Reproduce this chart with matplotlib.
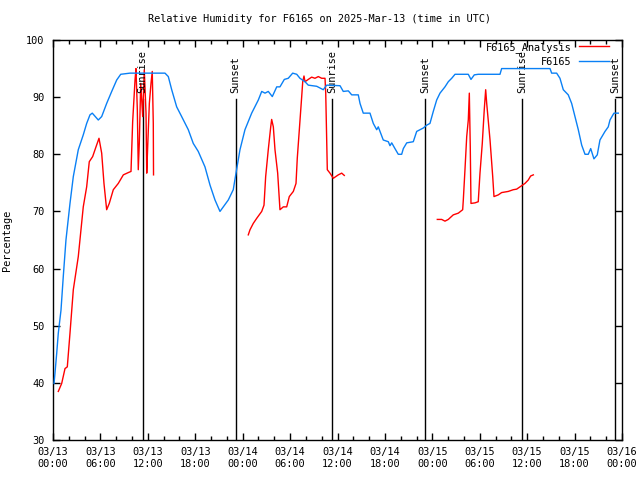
import matplotlib
matplotlib.use("Agg")
import matplotlib.pyplot as plt
import numpy as np

# hours since 2025-03-13 00:00 UTC
station_t = [0.13, 0.25, 0.47, 0.67, 1.01, 1.30, 1.64, 2.15, 2.57, 3.20, 3.83, 4.26,
             4.68, 4.97, 5.73, 6.16, 6.79, 7.43, 8.06, 8.57, 9.74, 14.17, 14.59, 15.02,
             15.65, 16.28, 17.12, 17.75, 18.38, 19.23, 19.87, 20.50, 21.13, 21.55, 22.18,
             22.81, 23.12, 23.66, 24.29, 25.14, 25.98, 26.41, 26.83, 27.24, 27.75, 28.31,
             28.72, 29.27, 29.77, 30.33, 30.84, 31.25, 31.89, 32.30, 33.37, 34.20, 34.63,
             36.32, 36.73, 37.37, 37.80, 38.63, 38.85, 39.26, 40.11, 40.53, 40.96, 41.16,
             41.79, 42.43, 42.64, 42.86, 43.27, 43.69, 44.12, 44.33, 44.76, 45.59, 46.02,
             46.86, 47.29, 47.70, 48.12, 48.55, 48.97, 49.60, 50.02, 50.45, 50.87, 52.55,
             52.89, 53.31, 53.81, 56.56, 56.77, 62.89, 63.10, 63.73, 64.15, 64.57, 65.20,
             65.63, 66.05, 66.47, 66.90, 67.32, 67.73, 68.04, 68.45, 68.87, 69.21, 69.85,
             70.26, 70.48, 70.98, 71.53]
station_rh = [39.9, 41.7, 45.2, 48.7, 52.7, 58.6, 65.0, 71.4, 76.1, 80.8, 83.4, 85.4,
              86.9, 87.2, 86.0, 86.6, 88.9, 91.0, 93.0, 94.0, 94.2, 94.2, 93.6, 91.3,
              88.3, 86.6, 84.3, 81.9, 80.5, 77.8, 74.6, 72.0, 70.0, 70.8, 72.0,
              73.8, 76.4, 80.8, 84.3, 87.2, 89.5, 91.0, 90.7, 91.0, 90.1, 91.8,
              91.8, 93.1, 93.3, 94.2, 94.0, 93.3, 92.7, 92.1, 91.9, 91.3, 92.1,
              92.0, 91.0, 91.1, 90.4, 90.4, 88.9, 87.2, 87.2, 85.4, 84.3, 84.8,
              82.5, 82.2, 81.5, 82.0, 81.0, 80.0, 80.0, 81.0, 82.0, 82.2, 84.0,
              84.6, 85.1, 85.4, 87.5, 89.5, 90.7, 91.8, 92.7, 93.3, 94.0, 94.0,
              93.1, 93.9, 94.0, 94.0, 95.0, 95.0, 94.2, 94.2, 93.3, 91.3, 90.4,
              88.9, 86.6, 84.3, 81.6, 80.0, 80.0, 81.0, 79.2, 79.9, 82.5, 84.0,
              84.8, 86.0, 87.2, 87.2]

# analysis series, nan marks the gaps between runs
analysis_t = [0.67, 1.10, 1.52, 1.81, 2.15, 2.57, 3.20, 3.83, 4.26, 4.59, 5.02, 5.44,
              5.82, 6.16, 6.45, 6.79, 7.12, 7.63, 8.26, 8.90, 9.53, 9.87, 10.08, 10.38,
              10.50, 10.67, 10.79, 10.92, 11.10, 11.35, 11.55, 11.77, 11.86, 11.98, 12.19,
              12.40, 12.56, 12.69, 12.72,
              18.0,
              24.71, 24.93, 25.34, 25.78, 26.41, 26.70, 26.91, 27.24, 27.55, 27.67, 27.88,
              28.09, 28.43, 28.72, 29.14, 29.57, 29.90, 30.41, 30.75, 30.91, 31.17, 31.47,
              31.60, 31.76, 31.89, 32.30, 32.73, 33.15, 33.57, 34.00, 34.42, 34.51, 34.71,
              35.05, 35.47, 36.10, 36.53, 36.86,
              42.0,
              48.63, 49.18, 49.60, 50.02, 50.65, 51.29, 51.84, 51.92, 52.13, 52.35, 52.55,
              52.68, 52.80, 52.89, 53.40, 53.81, 54.03, 54.32, 54.57, 54.75, 54.88, 55.30,
              55.64, 55.80, 56.35, 56.77, 57.61, 58.24, 58.67, 59.30, 59.72, 60.14, 60.44,
              60.78]
analysis_rh = [38.5, 39.9, 42.5, 42.8, 48.7, 56.3, 62.1, 70.8, 74.3, 78.7, 79.6, 81.3,
               82.8, 80.2, 74.9, 70.3, 71.4, 73.8, 74.9, 76.4, 76.8, 77.0, 85.7, 93.0,
               95.0, 87.8, 77.3, 81.9, 92.4, 86.6, 94.8, 87.2, 76.7, 81.3, 88.9,
               92.4, 94.5, 85.4, 76.4,
               np.nan,
               65.9, 66.8, 67.9, 68.8, 70.0, 71.1, 76.1, 80.8, 84.8, 86.1, 84.8,
               80.8, 76.7, 70.3, 70.8, 70.8, 72.6, 73.5, 74.9, 79.3, 84.3, 90.1,
               92.7, 93.7, 92.7, 93.1, 93.5, 93.3, 93.6, 93.3, 93.3, 90.7, 77.3,
               76.7, 75.8, 76.4, 76.7, 76.3,
               np.nan,
               68.6, 68.6, 68.3, 68.6, 69.4, 69.7, 70.3, 72.0, 77.3, 83.1, 86.0,
               90.7, 81.3, 71.4, 71.5, 71.7, 76.7, 81.9, 87.8, 91.3, 88.9, 82.5,
               76.1, 72.6, 72.9, 73.3, 73.5, 73.8, 73.9, 74.5, 74.9, 75.5, 76.2,
               76.4]

sun_events = ["Sunrise", "Sunset", "Sunrise", "Sunset", "Sunrise", "Sunset"]
sun_times = [11.35, 23.10, 35.33, 47.12, 59.32, 71.15]

tick_hours = list(range(0, 73, 6))
tick_days = ["03/13"] * 4 + ["03/14"] * 4 + ["03/15"] * 4 + ["03/16"]
tick_clock = ["00:00", "06:00", "12:00", "18:00"] * 3 + ["00:00"]

FONT = "DejaVu Sans Mono"
FS = 7.4
plt.rcParams["font.family"] = FONT
plt.rcParams["font.size"] = FS

fig = plt.figure(figsize=(6.4, 4.8), dpi=100)
ax = fig.add_axes([53 / 640, 40 / 480, 569 / 640, 400 / 480])

# sunrise / sunset markers
for name, t in zip(sun_events, sun_times):
    ax.plot([t, t], [30, 89.7], color="black", lw=1, zorder=1)
    ax.text(t, 90.7, name, rotation=90, ha="center", va="bottom", fontsize=FS)

ax.plot(analysis_t, analysis_rh, color="#ff0000", lw=1, label="F6165_Analysis", zorder=2)
ax.plot(station_t, station_rh, color="#0a80f5", lw=1, label="F6165", zorder=3)

ax.set_xlim(0, 72)
ax.set_ylim(30, 100)
ax.set_xticks(tick_hours)
ax.set_xticklabels([f"{d}\n{c}" for d, c in zip(tick_days, tick_clock)])
ax.set_xticks(np.arange(0, 73, 2), minor=True)
ax.set_yticks(range(30, 101, 10))
ax.tick_params(which="both", direction="in", top=True, right=True, width=1, labelsize=FS)
ax.tick_params(which="major", length=5, pad=5)
ax.tick_params(which="minor", length=3)
ax.tick_params(axis="y", pad=6)
for s in ax.spines.values():
    s.set_linewidth(1)

ax.set_ylabel("Percentage", fontsize=FS)
ax.yaxis.set_label_coords(-41 / 569, 0.5)
fig.text(0.5, 1 - 19 / 480, "Relative Humidity for F6165 on 2025-Mar-13 (time in UTC)",
         ha="center", va="center", fontsize=FS)

ax.legend(loc="upper right", bbox_to_anchor=(0.978, 0.995), frameon=False,
          markerfirst=False, handlelength=3.0, handletextpad=0.7,
          labelspacing=0.35, borderpad=0, borderaxespad=0, fontsize=FS)

fig.savefig("out.png", dpi=100)
